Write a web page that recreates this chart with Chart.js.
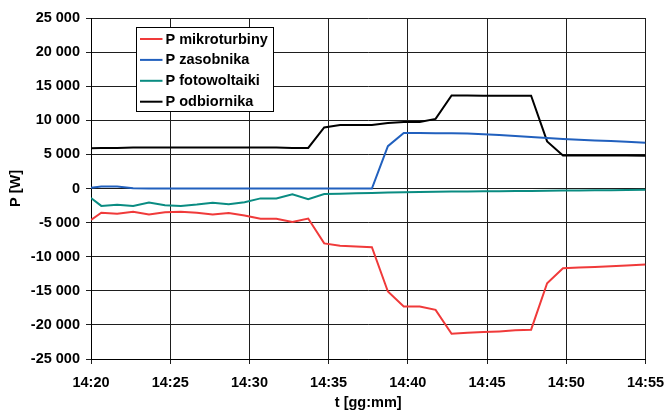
<!DOCTYPE html>
<html>
<head>
<meta charset="utf-8">
<script src="https://cdn.jsdelivr.net/npm/chart.js@4/dist/chart.umd.min.js"></script>
<style>
  html, body { margin: 0; padding: 0; background: #fff; }
  #wrap { position: relative; width: 665px; height: 412px; }
</style>
</head>
<body>
<div id="wrap"><canvas id="c" width="665" height="412"></canvas></div>
<script>
// Sample times, minutes after 14:00
const times = [20.00, 20.65, 21.65, 22.66, 23.66, 24.67, 25.67, 26.68, 27.68, 28.69,
               29.69, 30.70, 31.70, 32.71, 33.71, 34.72, 35.72, 36.73, 37.73, 38.74,
               39.74, 40.75, 41.75, 42.76, 43.76, 44.77, 45.77, 46.78, 47.78, 48.79,
               49.79, 50.80, 51.80, 52.81, 53.81, 55.00];

// Power flows [W]
const pMikroturbiny = [-4600, -3550, -3700, -3400, -3800, -3500, -3400, -3550, -3800, -3600,
                       -3950, -4450, -4450, -4900, -4400, -8050, -8400, -8500, -8600, -15100,
                       -17300, -17300, -17800, -21300, -21150, -21050, -20950, -20800, -20700, -13900,
                       -11700, -11600, -11500, -11400, -11300, -11150];
const pZasobnika = [100, 300, 300, 50, 0, 0, 0, 0, 0, 0,
                    0, 0, 0, 0, 0, 0, 0, 0, 0, 6200,
                    8150, 8150, 8100, 8100, 8050, 7950, 7850, 7700, 7550, 7400,
                    7250, 7150, 7050, 6950, 6850, 6700];
const pFotowoltaiki = [-1400, -2550, -2400, -2550, -2050, -2450, -2550, -2350, -2100, -2300,
                       -2000, -1450, -1450, -850, -1570, -820, -780, -700, -650, -600,
                       -550, -500, -480, -450, -430, -410, -390, -370, -350, -330,
                       -310, -290, -270, -250, -230, -200];
const pOdbiornika = [5900, 5950, 5950, 6000, 6000, 6000, 6000, 6000, 6000, 6000,
                     6000, 6000, 6000, 5950, 5950, 8950, 9300, 9300, 9300, 9600,
                     9750, 9750, 10200, 13650, 13650, 13600, 13600, 13600, 13600, 6900,
                     4850, 4850, 4850, 4850, 4850, 4800];

const seriesNames = ['P mikroturbiny', 'P zasobnika', 'P fotowoltaiki', 'P odbiornika'];
const xTicks = [20, 25, 30, 35, 40, 45, 50, 55];
const yTicks = [-25000, -20000, -15000, -10000, -5000, 0, 5000, 10000, 15000, 20000, 25000];

const FONT = { family: '"Liberation Sans", Arial, sans-serif', size: 14.5, weight: 'bold' };
const GRID = '#1e1e1e';

function pts(values) {
  return values.map((v, i) => ({ x: times[i], y: v }));
}
function fmtThousands(v) {
  const s = String(Math.abs(v)).replace(/\B(?=(\d{3})+(?!\d))/g, ' ');
  return (v < 0 ? '-' : '') + s;
}

// Boxed legend drawn inside the plot area
const boxLegend = {
  id: 'boxLegend',
  afterDatasetsDraw(chart) {
    const ctx = chart.ctx;
    const x0 = 136.5, y0 = 27.5, w = 137, h = 84;
    ctx.save();
    ctx.fillStyle = '#fff';
    ctx.fillRect(x0, y0, w, h);
    ctx.strokeStyle = '#000';
    ctx.lineWidth = 1;
    ctx.strokeRect(x0, y0, w, h);
    ctx.font = `bold ${FONT.size}px ${FONT.family}`;
    ctx.textBaseline = 'middle';
    ctx.textAlign = 'left';
    chart.data.datasets.forEach((ds, i) => {
      const y = 39 + i * 20.9;
      ctx.strokeStyle = ds.borderColor;
      ctx.lineWidth = 2;
      ctx.beginPath();
      ctx.moveTo(140, y);
      ctx.lineTo(162.5, y);
      ctx.stroke();
      ctx.fillStyle = '#000';
      ctx.fillText(ds.label, 165.5, y + 0.5);
    });
    ctx.restore();
  }
};

const colors = ['#F03A3A', '#2160BE', '#0A8C82', '#000000'];
const seriesData = [pMikroturbiny, pZasobnika, pFotowoltaiki, pOdbiornika];

new Chart(document.getElementById('c'), {
  type: 'line',
  data: {
    datasets: seriesData.map((vals, i) => ({
      label: seriesNames[i],
      data: pts(vals),
      borderColor: colors[i],
      backgroundColor: colors[i],
      borderWidth: 2,
      pointRadius: 0,
      tension: 0,
      fill: false
    }))
  },
  options: {
    responsive: false,
    animation: false,
    devicePixelRatio: 1,
    layout: { padding: { top: 18, right: 19.5, bottom: 0, left: 0 } },
    plugins: { legend: { display: false }, tooltip: { enabled: false } },
    scales: {
      x: {
        type: 'linear',
        min: 20,
        max: 55,
        afterBuildTicks(scale) { scale.ticks = xTicks.map(v => ({ value: v })); },
        afterFit(scale) {
          scale.height = 53;
          scale.paddingLeft = 0;
          scale.paddingRight = 0;
        },
        ticks: {
          font: FONT,
          color: '#000',
          padding: 10,
          maxRotation: 0,
          callback: v => '14:' + String(v).padStart(2, '0')
        },
        grid: { color: GRID, lineWidth: 1, tickLength: 5, drawTicks: true },
        border: { color: '#000', width: 1 },
        title: {
          display: true,
          text: 't [gg:mm]',
          font: FONT,
          color: '#000',
          padding: { top: 0, bottom: 0 }
        }
      },
      y: {
        min: -25000,
        max: 25000,
        afterBuildTicks(scale) { scale.ticks = yTicks.map(v => ({ value: v })); },
        afterFit(scale) {
          scale.width = 91;
          scale.paddingTop = 0;
          scale.paddingBottom = 0;
        },
        ticks: {
          font: FONT,
          color: '#000',
          padding: 6,
          callback: v => fmtThousands(v)
        },
        grid: { color: GRID, lineWidth: 1, tickLength: 5, drawTicks: true },
        border: { color: '#000', width: 1 },
        title: {
          display: true,
          text: 'P [W]',
          font: FONT,
          color: '#000',
          padding: { top: 7, bottom: 0 }
        }
      }
    }
  },
  plugins: [boxLegend]
});
</script>
</body>
</html>
